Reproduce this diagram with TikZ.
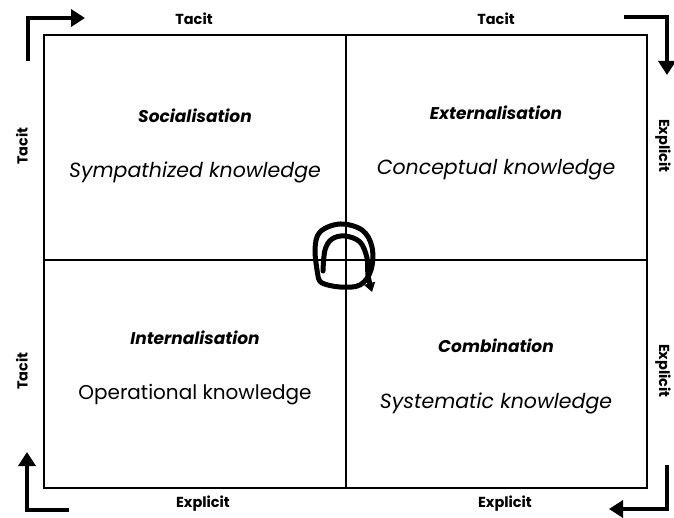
\documentclass[tikz,border=0pt]{standalone}
\usepackage{fontspec}
\setmainfont{Poppins}
\usetikzlibrary{arrows.meta}
\begin{document}
\begin{tikzpicture}[x=1pt,y=-1pt,
  frame/.style={line width=2.2pt},
  bigarrow/.style={line width=4.5pt,-{Triangle[length=14pt,width=17pt]}},
  axislbl/.style={font=\fontsize{14.5}{16}\selectfont\bfseries},
  heading/.style={font=\fontsize{17}{19}\selectfont\bfseries\itshape},
  body/.style={font=\fontsize{20.5}{24}\selectfont\itshape},
  bodyup/.style={font=\fontsize{20}{24}\selectfont}]
\useasboundingbox (0,0) rectangle (674,518);
% frame
\draw[frame] (44,35) rectangle (647,488);
\coordinate (mt) at (346,35); \coordinate (mb) at (346,488);
\coordinate (ml) at (44,260); \coordinate (mr) at (647,260);
\draw[frame] (mt) -- (mb);
\draw[frame] (ml) -- (mr);
% corner arrows
\coordinate (a1s) at (28,61); \coordinate (a1c) at (28,18); \coordinate (a1e) at (85,18);
\draw[bigarrow] (a1s) -- (a1c) -- (a1e);
\coordinate (a2s) at (624,17); \coordinate (a2c) at (667,17); \coordinate (a2e) at (667,75);
\draw[bigarrow] (a2s) -- (a2c) -- (a2e);
\coordinate (a3s) at (667,465); \coordinate (a3c) at (667,509); \coordinate (a3e) at (609,509);
\draw[bigarrow] (a3s) -- (a3c) -- (a3e);
\coordinate (a4s) at (69,510); \coordinate (a4c) at (27,510); \coordinate (a4e) at (27,452);
\draw[bigarrow] (a4s) -- (a4c) -- (a4e);
% axis labels
\node[axislbl] (t1) at (194,19) {Tacit};
\node[axislbl] (t2) at (496,19) {Tacit};
\node[axislbl] (e1) at (203,504) {Explicit};
\node[axislbl] (e2) at (505,504) {Explicit};
\node[axislbl,rotate=90] (t3) at (22,146) {Tacit};
\node[axislbl,rotate=90] (t4) at (22,371) {Tacit};
\node[axislbl,rotate=-90] (e3) at (663,146) {Explicit};
\node[axislbl,rotate=-90] (e4) at (663,371) {Explicit};
% quadrant texts
\node[heading] (h1) at (195,116) {Socialisation};
\node[body] (b1) at (195,172) {Sympathized knowledge};
\node[heading] (h2) at (496,113) {Externalisation};
\node[body] (b2) at (496,170) {Conceptual knowledge};
\node[heading] (h3) at (195,338) {Internalisation};
\node[bodyup] (b3) at (195,395) {Operational knowledge};
\node[heading] (h4) at (496,346) {Combination};
\node[body] (b4) at (496,403) {Systematic knowledge};
% spiral
\draw[line width=5pt,line cap=round,line join=round]
  plot[smooth,tension=0.6] coordinates {(318,276) (315,250) (320,232) (340,224) (362,230) (372,247) (371,270) (360,285) (340,287) (322,283) (318,276)};
\draw[line width=5pt,line cap=round,line join=round,-{Triangle[length=9pt,width=11pt]}]
  plot[smooth,tension=0.6] coordinates {(323,271) (325,250) (332,239) (345,236) (360,242) (367,258) (368,275) (372,292)};
\end{tikzpicture}
\end{document}
